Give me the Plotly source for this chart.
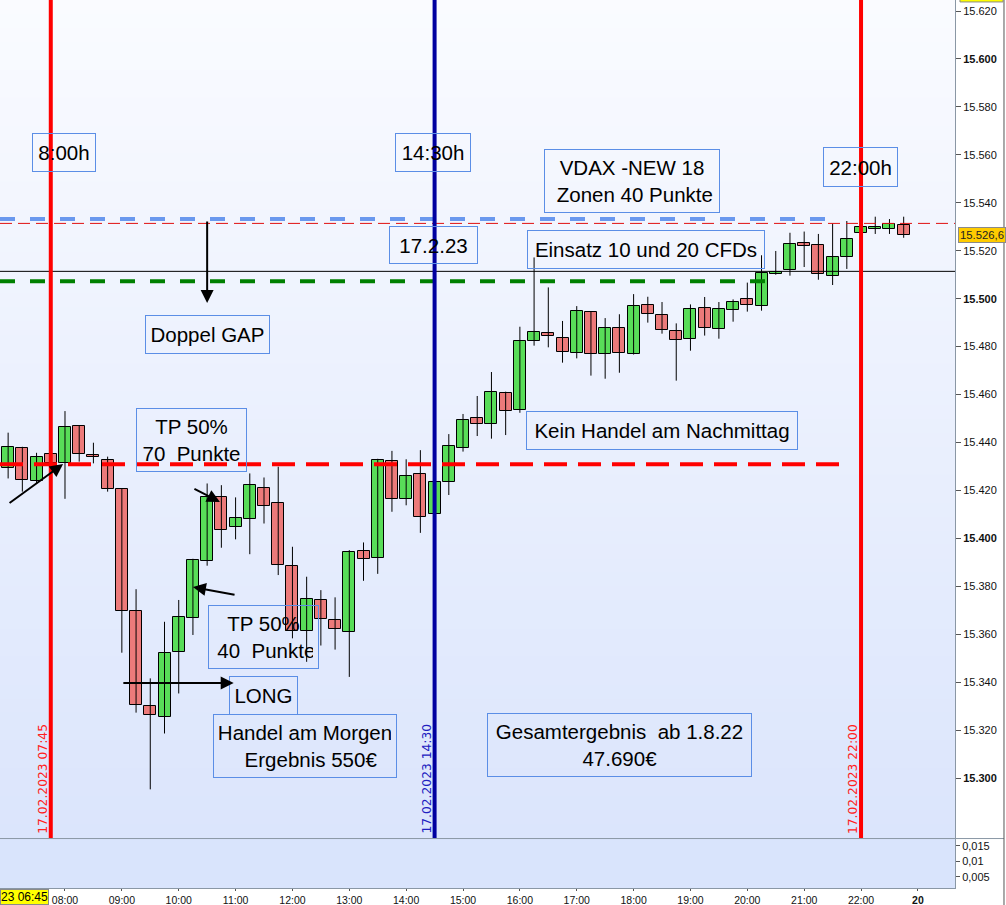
import plotly.graph_objects as go

DAY = "2023-02-17"

# ---------------- data ----------------
times = ["07:00", "07:15", "07:30", "07:45", "08:00", "08:15", "08:30", "08:45",
         "09:00", "09:15", "09:30", "09:45", "10:00", "10:15", "10:30", "10:45",
         "11:00", "11:15", "11:30", "11:45", "12:00", "12:15", "12:30", "12:45",
         "13:00", "13:15", "13:30", "13:45", "14:00", "14:15", "14:30", "14:45",
         "15:00", "15:15", "15:30", "15:45", "16:00", "16:15", "16:30", "16:45",
         "17:00", "17:15", "17:30", "17:45", "18:00", "18:15", "18:30", "18:45",
         "19:00", "19:15", "19:30", "19:45", "20:00", "20:15", "20:30", "20:45",
         "21:00", "21:15", "21:30", "21:45", "22:00", "22:15", "22:30", "22:45"]

opens = [15429.2, 15437.5, 15423.9, 15435.3, 15431.3, 15446.7, 15434.8, 15432.9,
         15420.4, 15369.5, 15330.0, 15325.3, 15352.8, 15366.6, 15390.4, 15417.4,
         15404.6, 15407.9, 15421.1, 15414.6, 15388.4, 15361.2, 15374.5, 15365.9,
         15361.0, 15394.9, 15392.0, 15432.2, 15416.4, 15426.8, 15410.0, 15423.6,
         15437.8, 15450.1, 15447.6, 15460.5, 15453.4, 15482.2, 15485.5, 15483.4,
         15477.2, 15494.3, 15476.9, 15487.6, 15476.9, 15497.2, 15493.0, 15486.6,
         15483.0, 15496.0, 15487.2, 15495.1, 15499.9, 15496.8, 15510.1, 15511.8,
         15523.1, 15522.2, 15509.6, 15517.5, 15527.3, 15528.9, 15528.9, 15530.6]

highs = [15444.1, 15438.2, 15435.7, 15436.0, 15453.1, 15446.9, 15439.9, 15434.1,
         15420.6, 15378.8, 15341.6, 15365.2, 15374.3, 15391.5, 15422.9, 15422.2,
         15417.1, 15427.1, 15425.4, 15429.9, 15396.5, 15384.0, 15378.4, 15375.4,
         15395.1, 15398.3, 15433.2, 15436.5, 15433.0, 15436.8, 15424.0, 15443.5,
         15451.9, 15459.4, 15469.4, 15461.2, 15488.3, 15517.2, 15504.7, 15490.7,
         15496.9, 15494.5, 15491.9, 15493.5, 15501.9, 15500.8, 15498.6, 15489.7,
         15497.6, 15500.7, 15498.6, 15499.7, 15506.7, 15518.1, 15519.9, 15527.5,
         15528.0, 15527.0, 15531.4, 15532.4, 15530.2, 15534.2, 15533.2, 15534.2]

lows = [15425.0, 15419.5, 15422.7, 15430.5, 15416.5, 15432.0, 15431.3, 15419.5,
        15352.3, 15327.3, 15295.3, 15318.6, 15335.3, 15359.7, 15388.6, 15396.1,
        15399.6, 15393.4, 15406.2, 15384.7, 15358.3, 15348.5, 15355.3, 15353.6,
        15342.2, 15382.3, 15385.2, 15411.1, 15413.8, 15402.3, 15409.0, 15418.1,
        15436.2, 15442.7, 15441.6, 15443.1, 15452.4, 15480.4, 15479.7, 15473.3,
        15475.1, 15467.9, 15466.6, 15469.1, 15476.7, 15490.0, 15485.4, 15465.8,
        15478.3, 15484.6, 15483.3, 15490.4, 15494.6, 15495.0, 15510.0, 15509.6,
        15513.2, 15507.9, 15505.7, 15512.4, 15527.0, 15527.0, 15527.0, 15525.4]

closes = [15438.0, 15424.3, 15434.1, 15431.5, 15446.3, 15435.0, 15433.8, 15420.4,
          15369.5, 15330.4, 15326.3, 15352.0, 15367.0, 15390.8, 15417.1, 15403.7,
          15408.3, 15422.1, 15413.7, 15388.7, 15361.5, 15374.8, 15366.2, 15362.4,
          15394.4, 15391.2, 15432.6, 15416.6, 15426.2, 15409.1, 15423.4, 15438.4,
          15449.4, 15447.6, 15460.9, 15453.0, 15482.2, 15485.9, 15484.3, 15477.6,
          15494.7, 15476.9, 15487.6, 15477.2, 15496.8, 15493.6, 15486.8, 15482.6,
          15495.5, 15487.6, 15495.5, 15498.5, 15497.2, 15510.6, 15511.3, 15522.7,
          15521.8, 15510.1, 15517.2, 15524.7, 15529.8, 15529.8, 15531.1, 15526.6]

last_price = 15526.6

# horizontal levels
blue_zone = 15533.2
red_thin_level = 15531.4
black_level = 15511.4
green_zone = 15507.3
red_zone = 15430.9

# vertical session markers
session_marks = ["07:45", "14:30", "22:00"]
session_labels = ["17.02.2023 07:45", "17.02.2023 14:30", "17.02.2023 22:00"]

# axis ticks
xtick_times = ["08:00", "09:00", "10:00", "11:00", "12:00", "13:00", "14:00", "15:00",
               "16:00", "17:00", "18:00", "19:00", "20:00", "21:00", "22:00", "23:00"]
xtick_labels = ["08:00", "09:00", "10:00", "11:00", "12:00", "13:00", "14:00", "15:00",
                "16:00", "17:00", "18:00", "19:00", "20:00", "21:00", "22:00", "<b>20</b>"]
ytick_vals = [15300, 15320, 15340, 15360, 15380, 15400, 15420, 15440, 15460,
              15480, 15500, 15520, 15540, 15560, 15580, 15600, 15620]
ytick_labels = ["<b>15.300</b>", "15.320", "15.340", "15.360", "15.380", "<b>15.400</b>",
                "15.420", "15.440", "15.460", "15.480", "<b>15.500</b>", "15.520",
                "15.540", "15.560", "15.580", "<b>15.600</b>", "15.620"]
y2tick_vals = [0.005, 0.01, 0.015]
y2tick_labels = ["0,005", "0,01", "0,015"]


def T(hm):
    return f"{DAY} {hm}"


xs = [T(t) for t in times]

GREEN = "#58dd58"
RED = "#ec7a7a"

# ---------------- figure ----------------
fig = go.Figure()

# wicks
wx, wy = [], []
for x, lo, hi in zip(xs, lows, highs):
    wx += [x, x, None]
    wy += [lo, hi, None]
fig.add_trace(go.Scatter(x=wx, y=wy, mode="lines", line=dict(color="black", width=1),
                         hoverinfo="skip", showlegend=False, xaxis="x", yaxis="y"))

# bodies
base = [min(o, c) for o, c in zip(opens, closes)]
height = [max(abs(c - o), 0.4) for o, c in zip(opens, closes)]
colors = [GREEN if c >= o else RED for o, c in zip(opens, closes)]
fig.add_trace(go.Bar(x=xs, y=height, base=base, width=760000,
                     marker=dict(color=colors, line=dict(color="black", width=1)),
                     showlegend=False, xaxis="x", yaxis="y"))

# empty indicator pane
fig.add_trace(go.Scatter(x=[xs[0]], y=[None], mode="lines", showlegend=False,
                         xaxis="x", yaxis="y2"))

X_LEFT = T("06:51:25")
X_RIGHT = T("23:39:09")
MAIN_BOTTOM = 0.0563
SUB_TOP = 0.0552

shapes = []
# background gradient in main pane
N = 60
top = (250, 251, 255)
bot = (219, 229, 252)
for i in range(N):
    f = i / (N - 1)
    r = round(bot[0] + (top[0] - bot[0]) * f)
    g = round(bot[1] + (top[1] - bot[1]) * f)
    b = round(bot[2] + (top[2] - bot[2]) * f)
    y0 = MAIN_BOTTOM + (1 - MAIN_BOTTOM) * i / N
    y1 = MAIN_BOTTOM + (1 - MAIN_BOTTOM) * (i + 1) / N
    shapes.append(dict(type="rect", xref="paper", yref="paper", x0=0, x1=1, y0=y0, y1=y1 + 0.001,
                       fillcolor=f"rgb({r},{g},{b})", line=dict(width=0), layer="below"))
# indicator pane background
shapes.append(dict(type="rect", xref="paper", yref="paper", x0=0, x1=1, y0=0, y1=SUB_TOP,
                   fillcolor="#d9e4fc", line=dict(width=0), layer="below"))

# horizontal levels
shapes.append(dict(type="line", xref="x", yref="y", x0=X_LEFT, x1=T("21:23"),
                   y0=blue_zone, y1=blue_zone, line=dict(color="#6a98ee", width=4, dash="15px,15px")))
shapes.append(dict(type="line", xref="x", yref="y", x0=X_LEFT, x1=X_RIGHT,
                   y0=red_thin_level, y1=red_thin_level, line=dict(color="#e01010", width=1, dash="12px,6px")))
shapes.append(dict(type="line", xref="x", yref="y", x0=X_LEFT, x1=X_RIGHT,
                   y0=black_level, y1=black_level, line=dict(color="black", width=1)))
shapes.append(dict(type="line", xref="x", yref="y", x0=X_LEFT, x1=T("20:21"),
                   y0=green_zone, y1=green_zone, line=dict(color="#008000", width=4, dash="15px,15px")))
shapes.append(dict(type="line", xref="x", yref="y", x0=X_LEFT, x1=T("21:43"),
                   y0=red_zone, y1=red_zone, line=dict(color="#ff0000", width=4, dash="23px,11px")))

# vertical session lines
vcolors = ["#ff0000", "#0000a0", "#ff0000"]
for t, c in zip(session_marks, vcolors):
    shapes.append(dict(type="line", xref="x", yref="paper", x0=T(t), x1=T(t),
                       y0=MAIN_BOTTOM, y1=1, line=dict(color=c, width=4)))

# pane divider and frame lines
shapes.append(dict(type="line", xref="paper", yref="paper", x0=0, x1=1.0513,
                   y0=0.0557, y1=0.0557, line=dict(color="#8a97a5", width=1)))
shapes.append(dict(type="line", xref="paper", yref="paper", x0=1.0513, x1=1.0513,
                   y0=-0.0195, y1=1, line=dict(color="#555555", width=1)))
# clipped yellow tag at the very top of the price scale
shapes.append(dict(type="rect", xref="paper", yref="paper", x0=1.0052, x1=1.0503,
                   y0=0.9978, y1=1.01, fillcolor="#ffff00", line=dict(color="#8a8a8a", width=1)))

annotations = []
BOX = dict(showarrow=False, font=dict(family="Liberation Sans, Arial", size=20.5, color="black"),
           bordercolor="#5b8ee6", borderwidth=1, borderpad=5, bgcolor="rgba(0,0,0,0)",
           xref="x", yref="y", align="center", valign="middle")


def box(text, t, p, w, h):
    d = dict(BOX)
    d.update(text=text, x=T(t), y=p, width=w, height=h)
    annotations.append(d)


box("8:00h", "07:59", 15560.8, 52, 27)
box("14:30h", "14:28", 15560.8, 64, 27)
box("VDAX -NEW 18<br> Zonen 40 Punkte", "17:58", 15549.1, 164, 52)
box("22:00h", "21:59", 15554.9, 63, 28)
box("17.2.23", "14:29", 15522.4, 77, 26)
box("Einsatz 10 und 20 CFDs", "18:13", 15520.7, 226, 27)
box("Doppel GAP", "10:30", 15485.2, 113, 27)
box("TP 50%<br>70&nbsp;&nbsp;Punkte", "10:14", 15441.0, 99, 52)
box("Kein Handel am Nachmittag", "18:30", 15445.2, 260, 27)
box("TP 50%<br> 40&nbsp;&nbsp;Punkte", "11:29", 15358.8, 99, 52)
box("LONG", "11:29", 15334.6, 57, 27)
box("Handel am Morgen<br>&nbsp;&nbsp;Ergebnis 550€", "12:13", 15313.4, 172, 52)
box("Gesamtergebnis&nbsp;&nbsp;ab 1.8.22<br>47.690€", "17:45", 15313.8, 253, 52)


def arrow(t0, p0, t1, p1):
    annotations.append(dict(x=T(t1), y=p1, ax=T(t0), ay=p0, xref="x", yref="y",
                            axref="x", ayref="y", text="", showarrow=True,
                            arrowhead=2, arrowsize=1.3, arrowwidth=2, arrowcolor="black"))


arrow("06:59:55", 15414.3, "07:58", 15431.0)
arrow("10:30", 15532.8, "10:30", 15498.2)
arrow("10:15", 15421.0, "10:43:30", 15415.2)
arrow("11:00:30", 15376.4, "10:15", 15379.7)
arrow("09:00", 15339.7, "10:58", 15339.7)

# rotated date labels at the session lines
label_colors = ["#ff2020", "#2020c0", "#ff2020"]
for t, lab, c in zip(session_marks, session_labels, label_colors):
    annotations.append(dict(x=T(t), y=MAIN_BOTTOM, xref="x", yref="paper", text=lab,
                            textangle=-90, showarrow=False, xanchor="center", yanchor="bottom",
                            xshift=-8, yshift=2,
                            font=dict(family="DejaVu Sans", size=12.3, color=c)))

# current price tag
annotations.append(dict(x=1, y=last_price, xref="paper", yref="y", xanchor="left", xshift=3,
                        text="15.526,6", showarrow=False, bgcolor="#ffcc00", bordercolor="#8a8a8a",
                        borderwidth=1, borderpad=1,
                        font=dict(family="Liberation Sans, Arial", size=11.3, color="#222222")))
# cursor time tag
annotations.append(dict(x=0, y=0, xref="paper", yref="paper", xanchor="left", yanchor="top",
                        yshift=-1, text="23 06:45", showarrow=False, bgcolor="#ffff00",
                        bordercolor="#8a8a8a", borderwidth=1, borderpad=0,
                        font=dict(family="Liberation Sans, Arial", size=12, color="black")))

TICKFONT = dict(family="Liberation Sans, Arial", size=11, color="#111111")
XTICKFONT = dict(family="Liberation Sans, Arial", size=10.5, color="#111111")

fig.update_layout(
    width=1006, height=905,
    margin=dict(l=0, r=51, t=0, b=17, autoexpand=False),
    paper_bgcolor="white", plot_bgcolor="white",
    showlegend=False, bargap=0,
    shapes=shapes, annotations=annotations,
    xaxis=dict(type="date", range=[X_LEFT, X_RIGHT], anchor="y2", automargin=False,
               tickvals=[T(t) for t in xtick_times], ticktext=xtick_labels,
               ticks="outside", ticklen=2, tickcolor="#555555",
               showline=True, linecolor="#8a97a5", showgrid=False, zeroline=False,
               tickfont=XTICKFONT),
    yaxis=dict(domain=[MAIN_BOTTOM, 1], anchor="x", side="right", automargin=False,
               range=[15275.0, 15624.6], tickvals=ytick_vals, ticktext=ytick_labels,
               ticks="outside", ticklen=5, tickcolor="#555555",
               showline=True, linecolor="#8a97a5", showgrid=False, zeroline=False,
               tickfont=TICKFONT),
    yaxis2=dict(domain=[0, SUB_TOP], anchor="x", side="right", automargin=False,
                range=[0.00145, 0.01726], tickvals=y2tick_vals, ticktext=y2tick_labels,
                ticks="outside", ticklen=4, tickcolor="#555555",
                showline=True, linecolor="#8a97a5", showgrid=False, zeroline=False,
                tickfont=TICKFONT),
)

fig.write_html("out.html", config={"displayModeBar": False},
               post_script="document.body.style.margin='0px';document.body.style.overflow='hidden';")
